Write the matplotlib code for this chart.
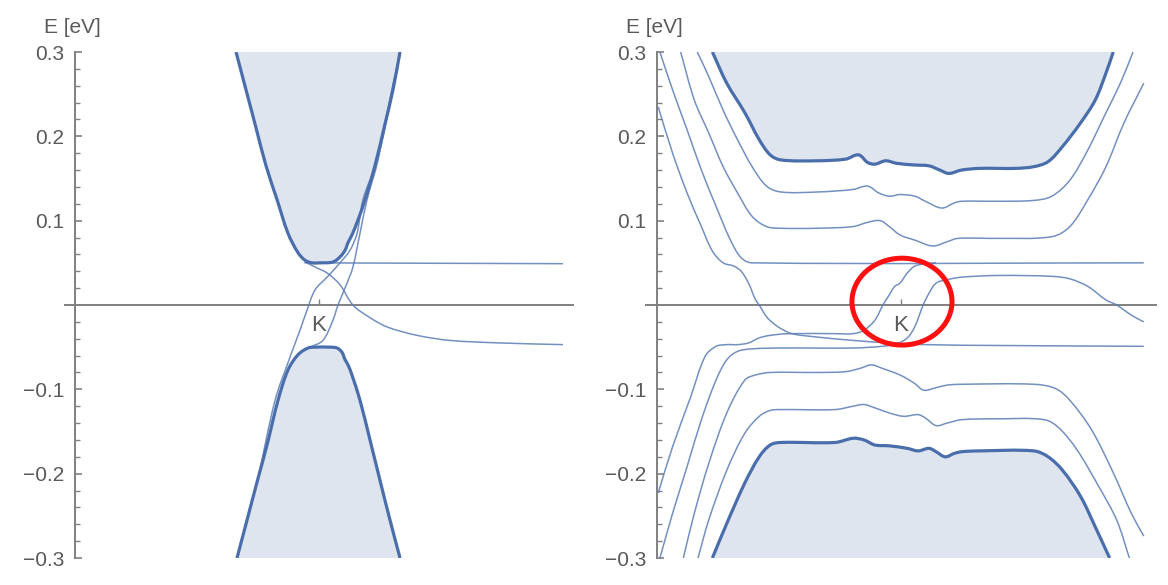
import numpy as np
import matplotlib.pyplot as plt
from matplotlib.patches import Ellipse, PathPatch
from matplotlib.path import Path

plt.rcParams['font.family'] = ['Liberation Sans', 'DejaVu Sans']

LINE = '#5b7db5'
EDGE = '#4a6eab'
FILL = '#dfe5ef'
AXIS = '#808080'
TEXT = '#5a5a5a'

E_MIN, E_MAX = -0.3, 0.3
y_ticks = [-0.3, -0.2, -0.1, 0.1, 0.2, 0.3]
y_tick_labels = ['\u22120.3', '\u22120.2', '\u22120.1', '0.1', '0.2', '0.3']
y_minor = [-0.28, -0.26, -0.24, -0.22, -0.18, -0.16, -0.14, -0.12, -0.08, -0.06, -0.04, -0.02,
           0.02, 0.04, 0.06, 0.08, 0.12, 0.14, 0.16, 0.18, 0.22, 0.24, 0.26, 0.28]

# ---- left panel (k relative to K, E in eV) ----
left_cb_k = [-0.340, -0.299, -0.258, -0.217, -0.172, -0.127, -0.086, -0.057, -0.029, 0.004, 0.057,
             0.086, 0.107, 0.119, 0.135, 0.160, 0.189, 0.230, 0.270, 0.303, 0.332]
left_cb_E = [0.300, 0.255, 0.210, 0.165, 0.125, 0.085, 0.062, 0.053, 0.050, 0.050, 0.051,
             0.057, 0.065, 0.074, 0.083, 0.101, 0.125, 0.166, 0.214, 0.255, 0.300]
left_vb_k = [-0.336, -0.295, -0.254, -0.213, -0.168, -0.127, -0.086, -0.045, -0.016, 0.045, 0.074,
             0.094, 0.107, 0.119, 0.135, 0.168, 0.209, 0.250, 0.291, 0.332]
left_vb_E = [-0.300, -0.255, -0.210, -0.166, -0.113, -0.077, -0.059, -0.051, -0.050, -0.050, -0.051,
             -0.056, -0.065, -0.071, -0.083, -0.113, -0.160, -0.208, -0.255, -0.300]

left_flat_k = [-0.06, 1.0]
left_flat_E = [0.050, 0.049]
left_dec_k = [-0.057, -0.016, 0.033, 0.086, 0.139, 0.209, 0.279, 0.402, 0.537, 0.742, 1.0]
left_dec_E = [0.051, 0.045, 0.038, 0.024, 0.000, -0.015, -0.026, -0.036, -0.042, -0.045, -0.047]
left_a_k = [-0.336, -0.254, -0.180, -0.119, -0.078, -0.049, -0.016, 0.033, 0.086, 0.127, 0.156,
            0.180, 0.230, 0.332]
left_a_E = [-0.300, -0.210, -0.113, -0.062, -0.030, -0.006, 0.018, 0.033, 0.050, 0.065, 0.085,
            0.125, 0.166, 0.300]
left_b_k = [-0.037, 0.016, 0.057, 0.078, 0.115, 0.139, 0.168, 0.197, 0.242, 0.332]
left_b_E = [-0.050, -0.042, -0.018, 0.000, 0.026, 0.045, 0.085, 0.125, 0.172, 0.300]

# ---- right panel ----
right_cb_k = [-0.773, -0.714, -0.640, -0.581, -0.536, -0.492, -0.344, -0.226, -0.174, -0.137, -0.107,
              -0.063, -0.018, 0.056, 0.115, 0.159, 0.196, 0.248, 0.322, 0.470, 0.544, 0.603, 0.662,
              0.736, 0.796, 0.840, 0.870]
right_cb_E = [0.300, 0.263, 0.228, 0.196, 0.178, 0.172, 0.171, 0.173, 0.178, 0.169, 0.167,
              0.171, 0.168, 0.166, 0.165, 0.160, 0.156, 0.160, 0.162, 0.162, 0.164, 0.170, 0.188,
              0.216, 0.243, 0.275, 0.300]
right_vb_k = [-0.773, -0.714, -0.640, -0.581, -0.536, -0.492, -0.270, -0.196, -0.152, -0.107, -0.048,
              0.026, 0.070, 0.115, 0.144, 0.181, 0.218, 0.248, 0.322, 0.544, 0.603, 0.662, 0.736,
              0.796, 0.855]
right_vb_E = [-0.300, -0.259, -0.211, -0.180, -0.166, -0.163, -0.163, -0.158, -0.160, -0.166, -0.167,
              -0.170, -0.173, -0.170, -0.174, -0.180, -0.176, -0.174, -0.173, -0.173, -0.180, -0.196,
              -0.227, -0.263, -0.300]

c1_k = [-0.835, -0.788, -0.729, -0.670, -0.610, -0.551, -0.492, -0.344, -0.196, -0.137, -0.092, -0.048,
        -0.004, 0.056, 0.100, 0.167, 0.218, 0.248, 0.396, 0.544, 0.618, 0.692, 0.766, 0.840, 0.899, 0.951]
c1_E = [0.300, 0.271, 0.231, 0.196, 0.164, 0.141, 0.134, 0.134, 0.137, 0.141, 0.133, 0.129,
        0.131, 0.129, 0.123, 0.115, 0.121, 0.123, 0.123, 0.124, 0.129, 0.148, 0.184, 0.228, 0.263, 0.300]
c2_k = [-0.903, -0.847, -0.788, -0.729, -0.670, -0.610, -0.551, -0.492, -0.344, -0.196, -0.137, -0.085,
        -0.048, -0.004, 0.056, 0.130, 0.189, 0.233, 0.396, 0.618, 0.692, 0.766, 0.840, 0.914, 0.995]
c2_E = [0.300, 0.243, 0.204, 0.164, 0.133, 0.105, 0.093, 0.091, 0.091, 0.093, 0.098, 0.100,
        0.093, 0.083, 0.077, 0.070, 0.075, 0.079, 0.079, 0.081, 0.093, 0.125, 0.164, 0.216, 0.263]
c3_k = [-0.988, -0.936, -0.877, -0.818, -0.758, -0.699, -0.655, -0.610, 0.995]
c3_E = [0.300, 0.255, 0.208, 0.160, 0.117, 0.077, 0.056, 0.050, 0.050]
c4_k = [-0.995, -0.936, -0.877, -0.818, -0.773, -0.729, -0.684, -0.655, -0.625, -0.596, -0.581, -0.551,
        -0.522, -0.492, -0.448, -0.344, -0.196, -0.048, 0.100, 0.396, 0.995]
c4_E = [0.235, 0.180, 0.133, 0.093, 0.064, 0.050, 0.046, 0.040, 0.026, 0.006, 0.000, -0.014,
        -0.022, -0.028, -0.034, -0.038, -0.042, -0.045, -0.047, -0.048, -0.049]

v1_k = [-0.892, -0.847, -0.788, -0.714, -0.640, -0.596, -0.536, -0.344, -0.226, -0.166, -0.122, -0.078,
        -0.004, 0.056, 0.093, 0.144, 0.189, 0.248, 0.544, 0.633, 0.692, 0.781, 0.870, 0.944, 0.995]
v1_E = [-0.300, -0.247, -0.188, -0.128, -0.089, -0.083, -0.080, -0.080, -0.079, -0.075, -0.071, -0.075,
        -0.083, -0.093, -0.101, -0.098, -0.095, -0.094, -0.094, -0.099, -0.113, -0.148, -0.199, -0.247, -0.274]
v2_k = [-0.832, -0.788, -0.714, -0.640, -0.581, -0.536, -0.492, -0.270, -0.196, -0.152, -0.107, -0.048,
        0.011, 0.070, 0.100, 0.144, 0.189, 0.248, 0.396, 0.588, 0.648, 0.722, 0.810, 0.884, 0.936]
v2_E = [-0.300, -0.255, -0.196, -0.152, -0.132, -0.125, -0.124, -0.124, -0.120, -0.118, -0.122, -0.128,
        -0.132, -0.130, -0.134, -0.143, -0.140, -0.136, -0.135, -0.136, -0.146, -0.172, -0.215, -0.255, -0.300]
x1_k = [-0.995, -0.936, -0.862, -0.803, -0.758, -0.714, -0.670, -0.625, -0.581, -0.536, -0.462, -0.270,
        -0.196, -0.152, -0.107, -0.074, -0.048, -0.026, -0.004, 0.026, 0.056, 0.100, 0.144]
x1_E = [-0.223, -0.168, -0.109, -0.061, -0.049, -0.047, -0.047, -0.045, -0.039, -0.036, -0.034, -0.034,
        -0.034, -0.030, -0.018, 0.000, 0.012, 0.022, 0.026, 0.038, 0.046, 0.049, 0.050]
x2_k = [-0.988, -0.936, -0.877, -0.818, -0.758, -0.714, -0.670, -0.610, -0.492, -0.196, -0.078, -0.018,
        0.026, 0.056, 0.091, 0.115, 0.144, 0.189, 0.248, 0.396, 0.618, 0.692, 0.766, 0.840, 0.884,
        0.944, 0.995]
x2_E = [-0.300, -0.247, -0.192, -0.136, -0.089, -0.065, -0.055, -0.052, -0.051, -0.051, -0.049, -0.046,
        -0.039, -0.026, 0.000, 0.014, 0.026, 0.030, 0.033, 0.035, 0.034, 0.031, 0.022, 0.006, 0.000,
        -0.012, -0.020]

left_thin = [(left_flat_k, left_flat_E), (left_dec_k, left_dec_E),
             (left_a_k, left_a_E), (left_b_k, left_b_E)]
right_thin = [(c1_k, c1_E), (c2_k, c2_E), (c3_k, c3_E), (c4_k, c4_E),
              (v1_k, v1_E), (v2_k, v2_E), (x1_k, x1_E), (x2_k, x2_E)]

# roughly pixels per data unit, so the curve smoothing is done in an isotropic space
SX, SY = 244.0, 843.0


def smooth_verts(k, e):
    """Cubic Bezier through the points, tangents scaled by segment length (no overshoot loops)."""
    p = np.column_stack([np.asarray(k) * SX, np.asarray(e) * SY])
    n = len(p)
    tang = np.zeros_like(p)
    for i in range(n):
        d = p[min(i + 1, n - 1)] - p[max(i - 1, 0)]
        tang[i] = d / (np.hypot(*d) or 1.0)
    verts = [p[0]]
    codes = [Path.MOVETO]
    for i in range(n - 1):
        seg = np.hypot(*(p[i + 1] - p[i])) / 3.0
        verts += [p[i] + tang[i] * seg, p[i + 1] - tang[i + 1] * seg, p[i + 1]]
        codes += [Path.CURVE4] * 3
    verts = np.array(verts) / [SX, SY]
    return verts, codes


def draw_curve(ax, k, e, **kw):
    verts, codes = smooth_verts(k, e)
    ax.add_patch(PathPatch(Path(verts, codes), fill=False, capstyle='butt', joinstyle='round', **kw))


def fill_band(ax, k, e, e_edge):
    verts, codes = smooth_verts(k, e)
    verts = np.vstack([verts, [[k[-1], e_edge], [k[0], e_edge], [k[0], e_edge]]])
    codes = codes + [Path.LINETO, Path.LINETO, Path.CLOSEPOLY]
    ax.add_patch(PathPatch(Path(verts, codes), fc=FILL, ec='none', lw=0, zorder=1))


def style_axes(ax, pad_k):
    ax.set_xlim(-1 - pad_k, 1 + pad_k)
    ax.set_ylim(E_MIN, E_MAX)
    ax.set_facecolor('none')
    for s in ('top', 'right'):
        ax.spines[s].set_visible(False)
    ax.spines['left'].set_position(('data', -1))
    ax.spines['bottom'].set_position(('data', 0))
    for s in ('left', 'bottom'):
        ax.spines[s].set_color(AXIS)
        ax.spines[s].set_linewidth(1.4)
    ax.set_yticks(y_ticks)
    ax.set_yticklabels(y_tick_labels)
    ax.set_yticks(y_minor, minor=True)
    ax.set_xticks([0])
    ax.set_xticklabels(['K'])
    ax.tick_params(axis='y', which='major', direction='in', length=5, width=1.2,
                   color=AXIS, labelcolor=TEXT, labelsize=15, pad=8)
    ax.tick_params(axis='y', which='minor', direction='in', length=3.5, width=1.0, color=AXIS)
    ax.tick_params(axis='x', which='major', direction='in', length=4, width=1.0,
                   color=AXIS, labelcolor=TEXT, labelsize=16, pad=7)
    ax.annotate('E [eV]', xy=(-1, E_MAX), xytext=(-2, 14), textcoords='offset points',
                ha='center', va='baseline', fontsize=15, color=TEXT, annotation_clip=False)


def draw_panel(ax, thin, cb, vb):
    fill_band(ax, cb[0], cb[1], E_MAX)
    fill_band(ax, vb[0], vb[1], E_MIN)
    for k, e in thin:
        draw_curve(ax, k, e, ec=LINE, lw=1.1, alpha=0.85, zorder=3)
    for k, e in (cb, vb):
        draw_curve(ax, k, e, ec=EDGE, lw=2.3, zorder=4)


fig = plt.figure(figsize=(11.68, 5.85), dpi=100)
ax_l = fig.add_axes([65 / 1168, 27 / 585, 508 / 1168, 506 / 585])
ax_r = fig.add_axes([646 / 1168, 27 / 585, 510 / 1168, 506 / 585])

draw_panel(ax_l, left_thin, (left_cb_k, left_cb_E), (left_vb_k, left_vb_E))
draw_panel(ax_r, right_thin, (right_cb_k, right_cb_E), (right_vb_k, right_vb_E))
style_axes(ax_l, 10 / 244)
style_axes(ax_r, 11 / 244)

ax_r.add_patch(Ellipse((0.004, 0.004), 0.41, 0.103, fill=False, ec='#ff1010', lw=3.6, zorder=6))

fig.savefig('out.png', dpi=100)
